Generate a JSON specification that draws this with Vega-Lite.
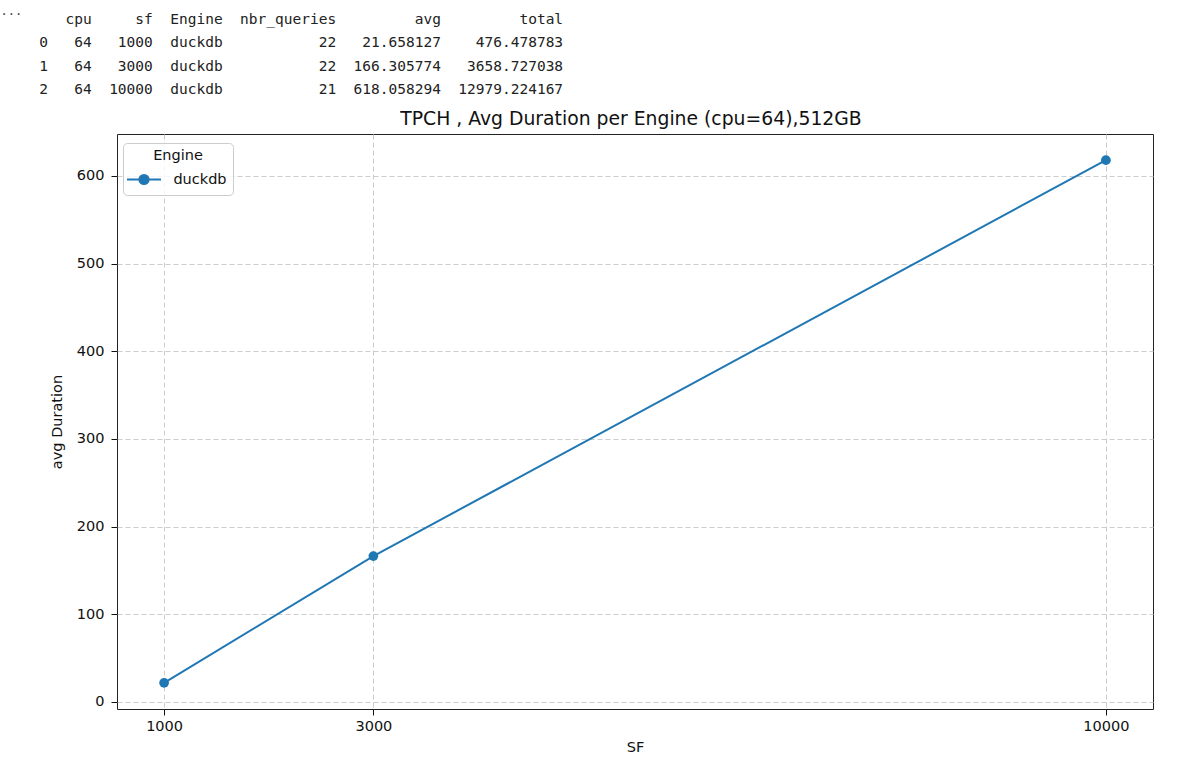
{
  "$schema": "https://vega.github.io/schema/vega-lite/v6.json",
  "background": "white",
  "padding": 0,
  "autosize": {"type": "pad"},
  "bounds": "flush",
  "spacing": 0,
  "resolve": {"scale": {"color": "independent", "x": "independent", "y": "independent"}, "legend": {"color": "independent"}},
  "datasets": {
    "results": [
      {"idx": 0, "cpu": 64, "sf": 1000, "Engine": "duckdb", "nbr_queries": 22, "avg": 21.658127, "total": 476.478783},
      {"idx": 1, "cpu": 64, "sf": 3000, "Engine": "duckdb", "nbr_queries": 22, "avg": 166.305774, "total": 3658.727038},
      {"idx": 2, "cpu": 64, "sf": 10000, "Engine": "duckdb", "nbr_queries": 21, "avg": 618.058294, "total": 12979.224167}
    ]
  },
  "vconcat": [
    {
      "width": 1036,
      "height": 134,
      "view": {"stroke": null},
      "layer": [
        {
          "data": {"values": [{"label": "...", "row": -1.35}]},
          "mark": {"type": "text", "font": "DejaVu Sans Mono", "fontSize": 12, "align": "left", "color": "#444"},
          "encoding": {
            "x": {"datum": -4.45, "type": "quantitative", "scale": {"domain": [8.9, 127.57], "nice": false, "zero": false}, "axis": null},
            "y": {"field": "row", "type": "quantitative", "scale": {"domain": [-1.83, 3.87], "reverse": true, "nice": false, "zero": false}, "axis": null},
            "text": {"field": "label"}
          }
        },
        {
          "data": {"values": [{"label": "cpu", "row": -1}]},
          "mark": {"type": "text", "font": "DejaVu Sans Mono", "fontSize": 14.5, "align": "right", "color": "#222"},
          "encoding": {"x": {"datum": 6, "type": "quantitative"}, "y": {"field": "row", "type": "quantitative"}, "text": {"field": "label"}}
        },
        {
          "data": {"values": [{"label": "sf", "row": -1}]},
          "mark": {"type": "text", "font": "DejaVu Sans Mono", "fontSize": 14.5, "align": "right", "color": "#222"},
          "encoding": {"x": {"datum": 13, "type": "quantitative"}, "y": {"field": "row", "type": "quantitative"}, "text": {"field": "label"}}
        },
        {
          "data": {"values": [{"label": "Engine", "row": -1}]},
          "mark": {"type": "text", "font": "DejaVu Sans Mono", "fontSize": 14.5, "align": "right", "color": "#222"},
          "encoding": {"x": {"datum": 21, "type": "quantitative"}, "y": {"field": "row", "type": "quantitative"}, "text": {"field": "label"}}
        },
        {
          "data": {"values": [{"label": "nbr_queries", "row": -1}]},
          "mark": {"type": "text", "font": "DejaVu Sans Mono", "fontSize": 14.5, "align": "right", "color": "#222"},
          "encoding": {"x": {"datum": 34, "type": "quantitative"}, "y": {"field": "row", "type": "quantitative"}, "text": {"field": "label"}}
        },
        {
          "data": {"values": [{"label": "avg", "row": -1}]},
          "mark": {"type": "text", "font": "DejaVu Sans Mono", "fontSize": 14.5, "align": "right", "color": "#222"},
          "encoding": {"x": {"datum": 46, "type": "quantitative"}, "y": {"field": "row", "type": "quantitative"}, "text": {"field": "label"}}
        },
        {
          "data": {"values": [{"label": "total", "row": -1}]},
          "mark": {"type": "text", "font": "DejaVu Sans Mono", "fontSize": 14.5, "align": "right", "color": "#222"},
          "encoding": {"x": {"datum": 60, "type": "quantitative"}, "y": {"field": "row", "type": "quantitative"}, "text": {"field": "label"}}
        },
        {
          "data": {"name": "results"},
          "mark": {"type": "text", "font": "DejaVu Sans Mono", "fontSize": 14.5, "align": "right", "color": "#222"},
          "encoding": {"x": {"datum": 1, "type": "quantitative"}, "y": {"field": "idx", "type": "quantitative"}, "text": {"field": "idx", "format": "d"}}
        },
        {
          "data": {"name": "results"},
          "mark": {"type": "text", "font": "DejaVu Sans Mono", "fontSize": 14.5, "align": "right", "color": "#222"},
          "encoding": {"x": {"datum": 6, "type": "quantitative"}, "y": {"field": "idx", "type": "quantitative"}, "text": {"field": "cpu", "format": "d"}}
        },
        {
          "data": {"name": "results"},
          "mark": {"type": "text", "font": "DejaVu Sans Mono", "fontSize": 14.5, "align": "right", "color": "#222"},
          "encoding": {"x": {"datum": 13, "type": "quantitative"}, "y": {"field": "idx", "type": "quantitative"}, "text": {"field": "sf", "format": "d"}}
        },
        {
          "data": {"name": "results"},
          "mark": {"type": "text", "font": "DejaVu Sans Mono", "fontSize": 14.5, "align": "right", "color": "#222"},
          "encoding": {"x": {"datum": 21, "type": "quantitative"}, "y": {"field": "idx", "type": "quantitative"}, "text": {"field": "Engine"}}
        },
        {
          "data": {"name": "results"},
          "mark": {"type": "text", "font": "DejaVu Sans Mono", "fontSize": 14.5, "align": "right", "color": "#222"},
          "encoding": {"x": {"datum": 34, "type": "quantitative"}, "y": {"field": "idx", "type": "quantitative"}, "text": {"field": "nbr_queries", "format": "d"}}
        },
        {
          "data": {"name": "results"},
          "mark": {"type": "text", "font": "DejaVu Sans Mono", "fontSize": 14.5, "align": "right", "color": "#222"},
          "encoding": {"x": {"datum": 46, "type": "quantitative"}, "y": {"field": "idx", "type": "quantitative"}, "text": {"field": "avg", "format": ".6f"}}
        },
        {
          "data": {"name": "results"},
          "mark": {"type": "text", "font": "DejaVu Sans Mono", "fontSize": 14.5, "align": "right", "color": "#222"},
          "encoding": {"x": {"datum": 60, "type": "quantitative"}, "y": {"field": "idx", "type": "quantitative"}, "text": {"field": "total", "format": ".6f"}}
        }
      ]
    },
    {
      "width": 1036,
      "height": 575,
      "title": {"text": "TPCH , Avg Duration per Engine (cpu=64),512GB", "font": "DejaVu Sans", "fontSize": 18.8, "fontWeight": "normal", "color": "#111", "anchor": "middle", "offset": 5, "dx": -4},
      "data": {"name": "results"},
      "encoding": {
        "x": {"field": "sf", "type": "quantitative", "scale": {"domain": [550, 10450], "nice": false, "zero": false}, "axis": {"values": [1000, 3000, 10000], "format": "d", "title": "SF"}},
        "y": {"field": "avg", "type": "quantitative", "scale": {"domain": [-8.16, 647.88], "nice": false, "zero": false}, "axis": {"values": [0, 100, 200, 300, 400, 500, 600], "format": "d", "title": "avg Duration"}},
        "color": {
          "field": "Engine", "type": "nominal",
          "scale": {"range": ["#1f77b4"]},
          "legend": {
            "title": "Engine", "orient": "none", "legendX": 6, "legendY": 9,
            "strokeColor": "#cccccc", "fillColor": "rgba(255,255,255,0.8)", "cornerRadius": 4, "padding": 6,
            "titleFont": "DejaVu Sans", "titleFontSize": 14.5, "titleFontWeight": "normal", "titleColor": "#111", "titleAnchor": "middle", "titleAlign": "center", "titlePadding": 8,
            "labelFont": "DejaVu Sans", "labelFontSize": 14.5, "labelColor": "#111", "labelOffset": 21.4,
            "symbolType": "M-2.5,0H2.5M-0.68,0A0.68,0.68,0,1,1,0.68,0A0.68,0.68,0,1,1,-0.68,0Z",
            "symbolSize": 185, "symbolOffset": 7, "symbolStrokeWidth": 2, "symbolFillColor": "#1f77b4", "symbolStrokeColor": "#1f77b4"
          }
        }
      },
      "layer": [
        {"mark": {"type": "line", "strokeWidth": 2}},
        {"mark": {"type": "point", "filled": true, "size": 95, "opacity": 1}}
      ]
    }
  ],
  "config": {
    "font": "DejaVu Sans",
    "view": {"stroke": "#222", "strokeWidth": 1},
    "axis": {
      "domain": false,
      "labelFont": "DejaVu Sans", "labelFontSize": 14.5, "labelColor": "#111",
      "tickColor": "#111", "tickSize": 6,
      "titleFont": "DejaVu Sans", "titleFontSize": 14.5, "titleFontWeight": "normal", "titleColor": "#111",
      "gridColor": "#cccccc", "gridDash": [5, 3], "gridWidth": 1
    },
    "axisX": {"titlePadding": 8, "labelPadding": 4},
    "axisY": {"titlePadding": 12, "labelPadding": 7}
  }
}
